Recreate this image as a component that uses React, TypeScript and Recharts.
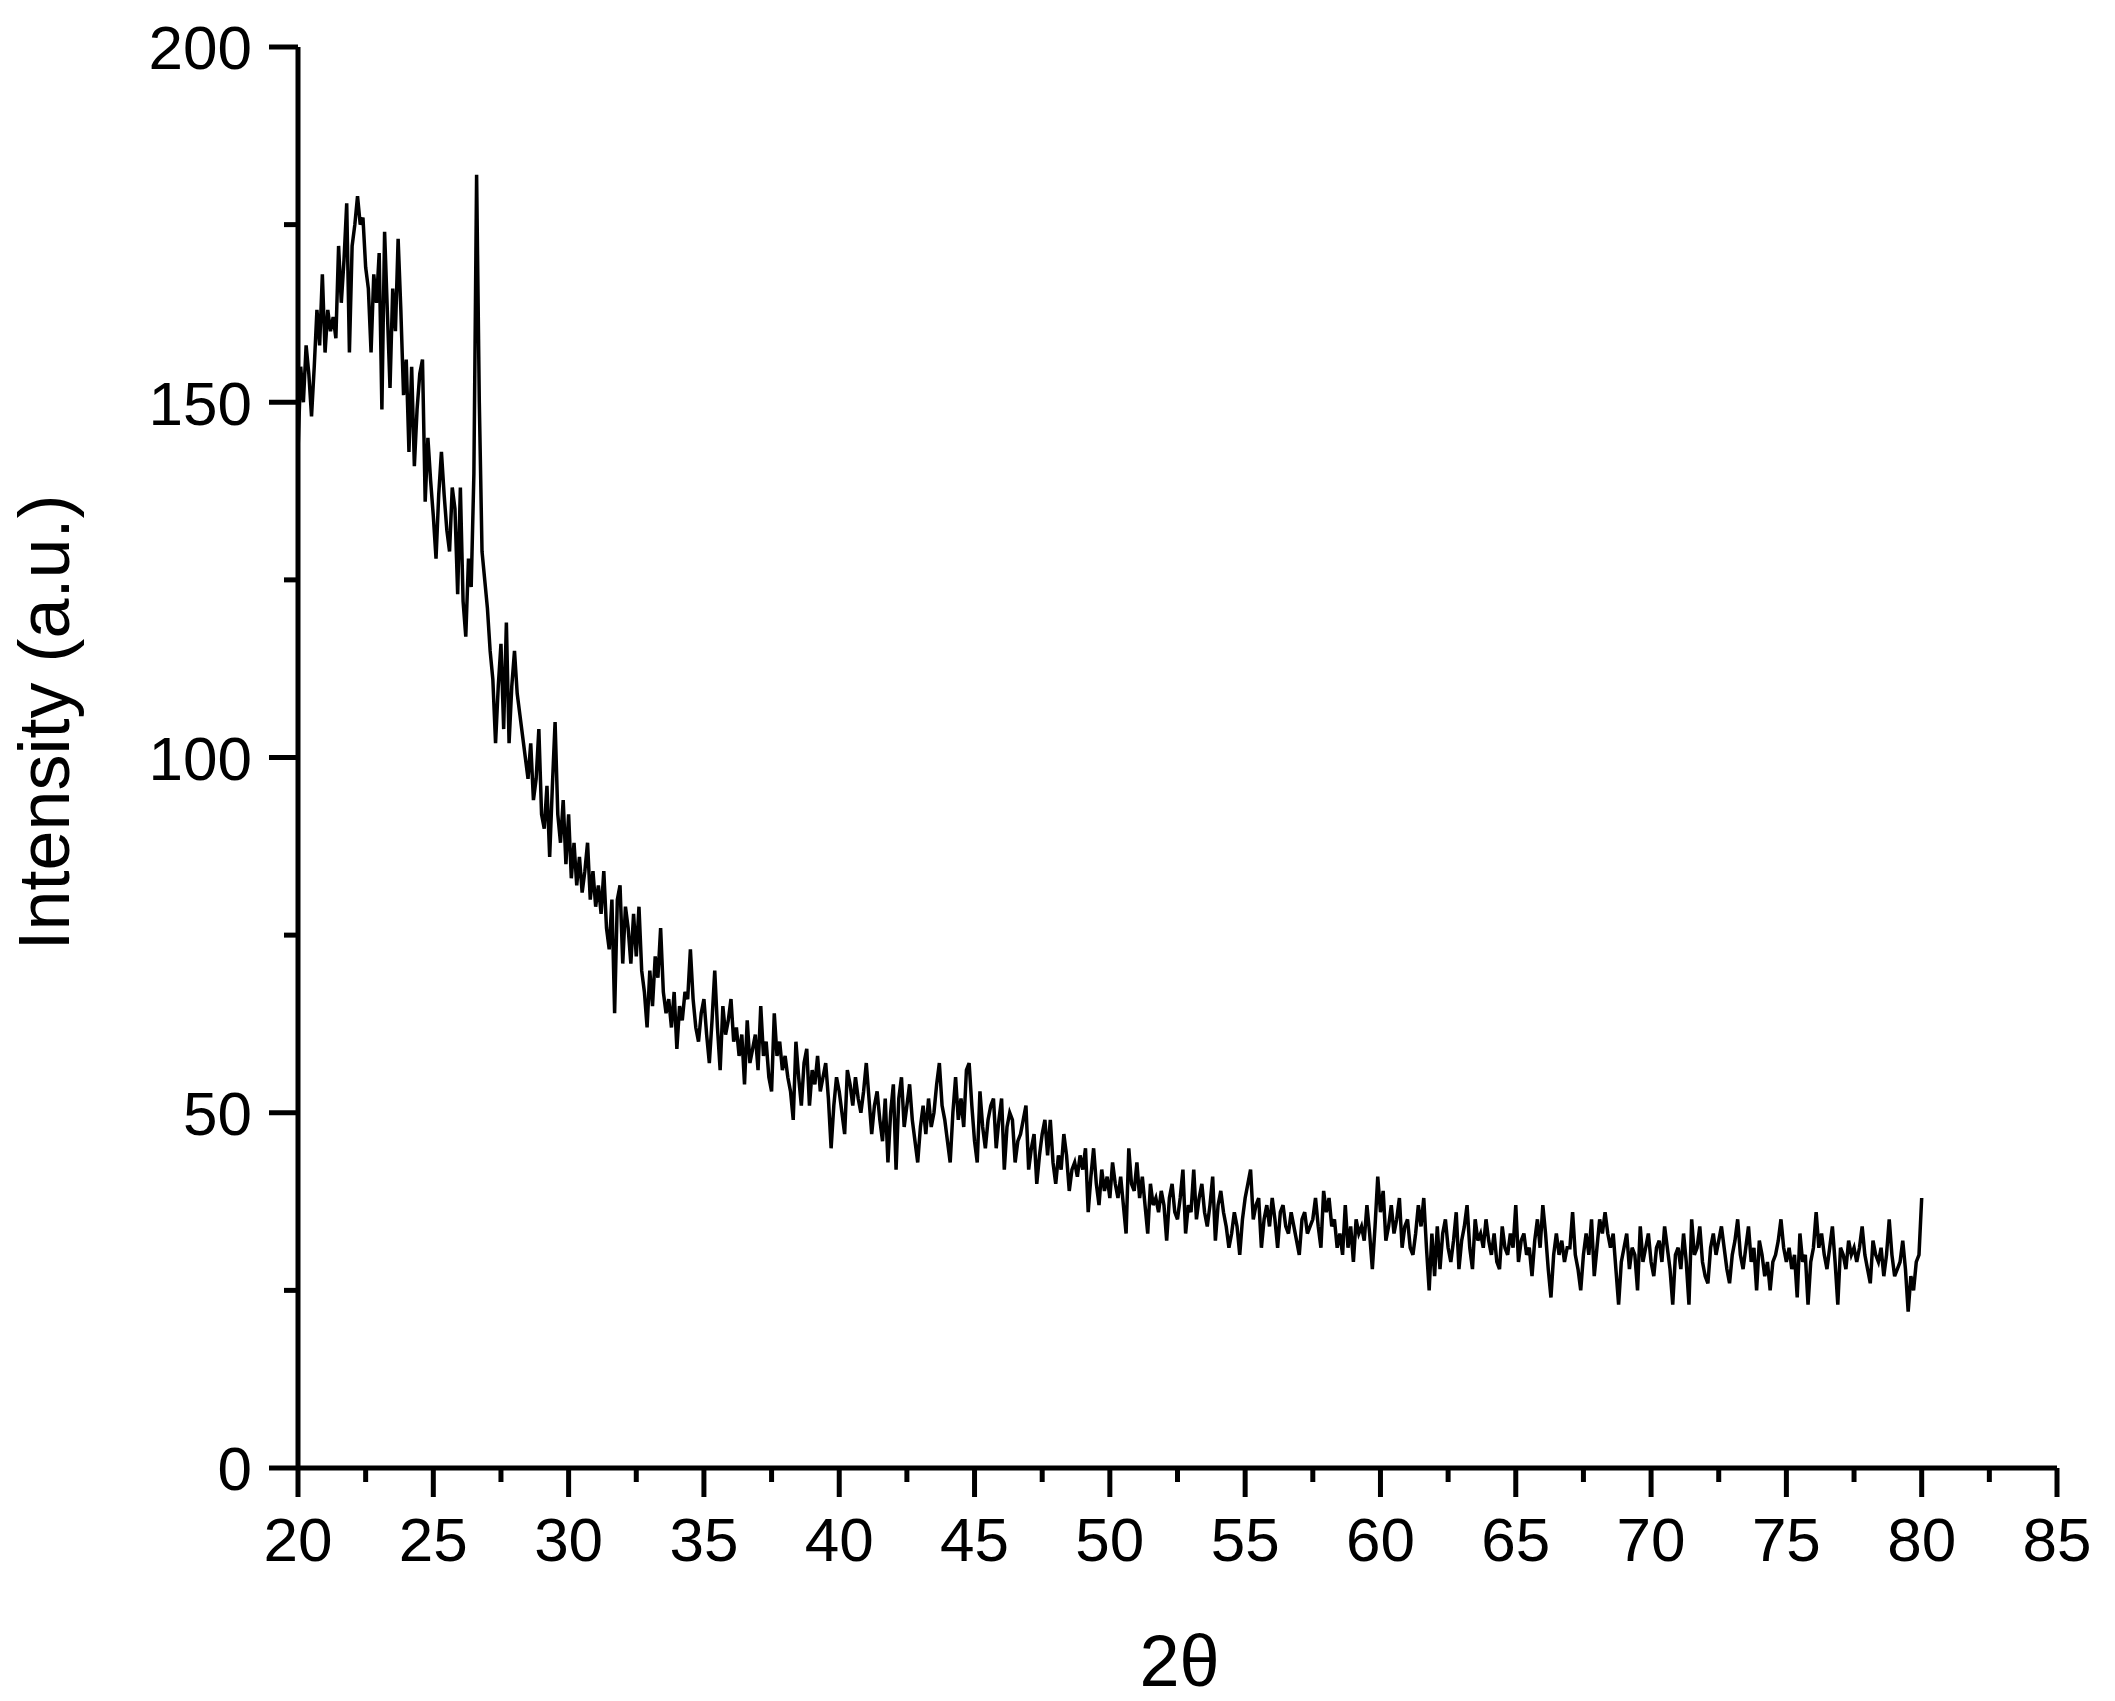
import { Label, Line, LineChart, XAxis, YAxis } from 'recharts'

// XRD scan, 20–80° 2θ, sampled every 0.1°
const START_ANGLE = 20
const STEP = 0.1

const INTENSITY_20_30 = [
  143, 155, 150, 158, 154, 148, 155, 163, 158, 168,
  157, 163, 160, 162, 159, 172, 164, 170, 178, 157,
  172, 175, 179, 175, 176, 169, 166, 157, 168, 164,
  171, 149, 174, 163, 152, 166, 160, 173, 163, 151,
  156, 143, 155, 141, 149, 154, 156, 136, 145, 139,
  134, 128, 137, 143, 137, 132, 129, 138, 135, 123,
  138, 122, 117, 128, 124, 140, 182, 150, 129, 125,
  121, 115, 111, 102, 110, 116, 104, 119, 102, 110,
  115, 109, 106, 103, 100, 97, 102, 94, 97, 104,
  92, 90, 96, 86, 96, 105, 92, 88, 94, 85,
]
const INTENSITY_30_40 = [
  92, 83, 88, 82, 86, 81, 84, 88, 80, 84,
  79, 82, 78, 84, 76, 73, 80, 64, 80, 82,
  71, 79, 76, 71, 78, 72, 79, 70, 67, 62,
  70, 65, 72, 69, 76, 67, 64, 66, 62, 67,
  59, 65, 63, 67, 66, 73, 66, 62, 60, 64,
  66, 61, 57, 63, 70, 62, 56, 65, 61, 63,
  66, 60, 62, 58, 61, 54, 63, 57, 59, 61,
  56, 65, 58, 60, 55, 53, 64, 58, 60, 56,
  58, 55, 53, 49, 60, 55, 51, 57, 59, 51,
  56, 54, 58, 53, 55, 57, 52, 45, 51, 55,
]
const INTENSITY_40_50 = [
  53, 50, 47, 56, 54, 51, 55, 52, 50, 53,
  57, 52, 47, 51, 53, 49, 46, 52, 43, 50,
  54, 42, 52, 55, 48, 51, 54, 49, 46, 43,
  48, 51, 47, 52, 48, 50, 54, 57, 51, 49,
  46, 43, 50, 55, 49, 52, 48, 56, 57, 51,
  46, 43, 53, 48, 45, 49, 51, 52, 45, 49,
  52, 42, 48, 50, 49, 43, 46, 47, 49, 51,
  42, 45, 47, 40, 44, 47, 49, 44, 49, 43,
  40, 44, 42, 47, 44, 39, 42, 43, 41, 44,
  42, 45, 36, 41, 45, 40, 37, 42, 39, 41,
]
const INTENSITY_50_60 = [
  38, 43, 40, 38, 41, 37, 33, 45, 40, 39,
  43, 38, 41, 37, 33, 40, 37, 38, 36, 39,
  37, 32, 38, 40, 36, 35, 38, 42, 33, 37,
  36, 42, 35, 38, 40, 36, 34, 37, 41, 32,
  37, 39, 36, 34, 31, 33, 36, 34, 30, 35,
  38, 40, 42, 35, 37, 38, 31, 35, 37, 34,
  38, 35, 31, 36, 37, 34, 33, 36, 34, 32,
  30, 35, 36, 33, 34, 35, 38, 34, 31, 39,
  36, 38, 34, 35, 31, 33, 30, 37, 31, 34,
  29, 35, 33, 34, 32, 37, 33, 28, 34, 41,
]
const INTENSITY_60_70 = [
  36, 39, 32, 34, 37, 33, 35, 38, 31, 34,
  35, 31, 30, 33, 37, 34, 38, 31, 25, 33,
  27, 34, 28, 33, 35, 31, 29, 32, 36, 28,
  32, 34, 37, 31, 28, 35, 32, 33, 31, 35,
  32, 30, 33, 29, 28, 34, 31, 30, 33, 31,
  37, 29, 32, 33, 30, 31, 27, 32, 35, 31,
  37, 33, 28, 24, 30, 33, 30, 32, 29, 31,
  31, 36, 30, 28, 25, 30, 33, 30, 35, 27,
  31, 35, 33, 36, 33, 31, 33, 28, 23, 29,
  31, 33, 28, 31, 30, 25, 34, 29, 31, 33,
]
const INTENSITY_70_80 = [
  29, 27, 31, 32, 29, 34, 31, 28, 23, 30,
  31, 28, 33, 29, 23, 35, 30, 31, 34, 29,
  27, 26, 31, 33, 30, 32, 34, 31, 28, 26,
  30, 32, 35, 30, 28, 31, 34, 29, 31, 25,
  32, 30, 27, 29, 25, 29, 30, 32, 35, 31,
  29, 31, 28, 30, 24, 33, 29, 30, 23, 29,
  31, 36, 31, 33, 30, 28, 31, 34, 29, 23,
  31, 30, 28, 32, 30, 31, 29, 31, 34, 30,
  28, 26, 32, 30, 29, 31, 27, 30, 35, 30,
  27, 28, 29, 32, 28, 22, 27, 25, 29, 30,
  38,
]

const X_TICKS = [20, 22.5, 25, 27.5, 30, 32.5, 35, 37.5, 40, 42.5, 45, 47.5, 50, 52.5, 55, 57.5, 60, 62.5, 65, 67.5, 70, 72.5, 75, 77.5, 80, 82.5, 85]
const Y_TICKS = [0, 25, 50, 75, 100, 125, 150, 175, 200]

const FONT = '"Liberation Sans", Arial, sans-serif'
const MAJOR = 29
const MINOR = 14
const GAP_X = 20
const GAP_Y = 17
const AXIS_W = 5

const rows = [
  ...INTENSITY_20_30,
  ...INTENSITY_30_40,
  ...INTENSITY_40_50,
  ...INTENSITY_50_60,
  ...INTENSITY_60_70,
  ...INTENSITY_70_80,
].map((v, i) => ({ angle: Math.round((START_ANGLE + i * STEP) * 10) / 10, intensity: v }))

function XTick(props: any) {
  const { x, y, payload } = props
  const v = payload.value as number
  const major = v % 5 === 0
  const axisY = y - MAJOR - GAP_X
  return (
    <g>
      <line x1={x} x2={x} y1={axisY} y2={axisY + (major ? MAJOR : MINOR)} stroke="#000" strokeWidth={AXIS_W} />
      {major ? (
        <text x={x} y={y} dy="0.71em" textAnchor="middle" fontSize={62} fontFamily={FONT} fill="#000">
          {v}
        </text>
      ) : null}
    </g>
  )
}

function YTick(props: any) {
  const { x, y, payload } = props
  const v = payload.value as number
  const major = v % 50 === 0
  const axisX = x + MAJOR + GAP_Y
  return (
    <g>
      <line x1={axisX} x2={axisX - (major ? MAJOR : MINOR)} y1={y} y2={y} stroke="#000" strokeWidth={AXIS_W} />
      {major ? (
        <text x={x} y={y} dy="0.36em" textAnchor="end" fontSize={62} fontFamily={FONT} fill="#000">
          {v}
        </text>
      ) : null}
    </g>
  )
}

export default function App() {
  return (
    <div style={{ position: 'absolute', left: 0, top: 0, background: '#fff' }}>
      <LineChart width={2115} height={1701} data={rows} margin={{ top: 47, right: 58, bottom: 0, left: 0 }}>
        <XAxis
          type="number"
          dataKey="angle"
          domain={[20, 85]}
          ticks={X_TICKS}
          interval={0}
          height={233}
          tickSize={MAJOR}
          tickMargin={GAP_X}
          tickLine={false}
          tick={<XTick />}
          axisLine={{ stroke: '#000', strokeWidth: AXIS_W }}
        >
          <Label
            content={(p: any) => {
              const vb = p.viewBox ?? { x: 298, y: 1468, width: 1759, height: 233 }
              return (
                <text x={vb.x + vb.width / 2 + 2} y={vb.y + 218} textAnchor="middle" fontSize={72} fontFamily={FONT} fill="#000">
                  2θ
                </text>
              )
            }}
          />
        </XAxis>
        <YAxis
          type="number"
          domain={[0, 200]}
          ticks={Y_TICKS}
          interval={0}
          width={298}
          tickSize={MAJOR}
          tickMargin={GAP_Y}
          tickLine={false}
          tick={<YTick />}
          axisLine={{ stroke: '#000', strokeWidth: AXIS_W }}
        >
          <Label
            content={(p: any) => {
              const vb = p.viewBox ?? { x: 0, y: 47, width: 298, height: 1421 }
              const cx = vb.x + 69
              const cy = vb.y + vb.height / 2 - 35
              return (
                <text x={cx} y={cy} transform={`rotate(-90 ${cx} ${cy})`} textAnchor="middle" fontSize={72} fontFamily={FONT} fill="#000">
                  Intensity (a.u.)
                </text>
              )
            }}
          />
        </YAxis>
        <Line
          type="linear"
          dataKey="intensity"
          stroke="#000"
          strokeWidth={3.5}
          dot={false}
          isAnimationActive={false}
        />
      </LineChart>
    </div>
  )
}
